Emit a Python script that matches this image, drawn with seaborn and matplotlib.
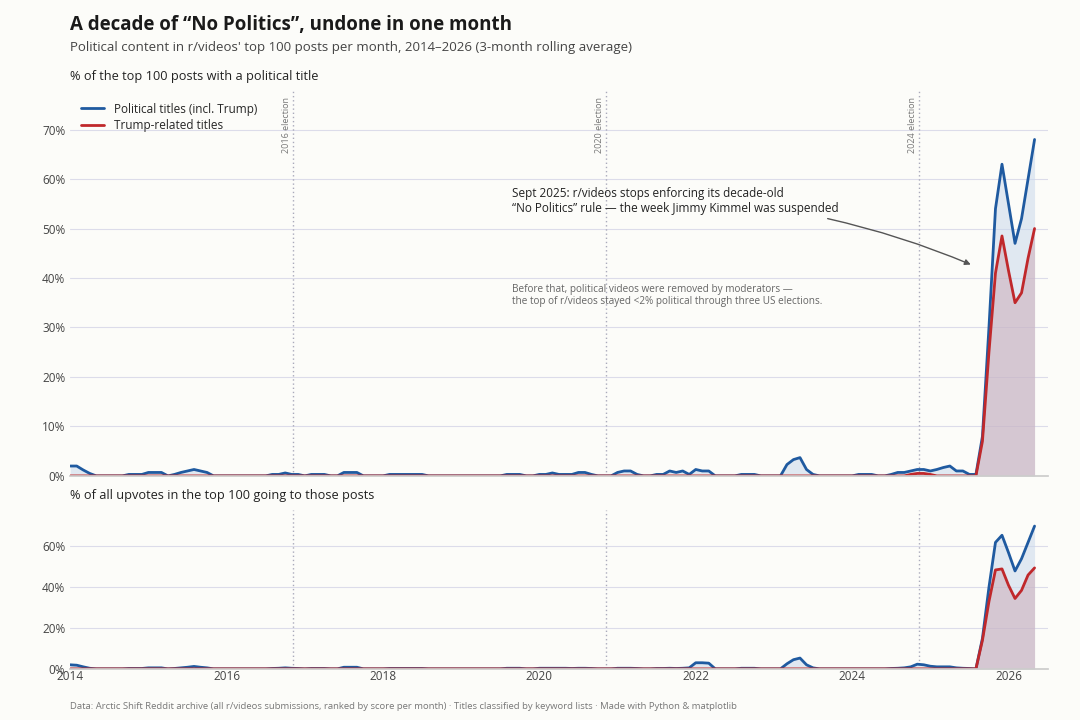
import numpy as np
import pandas as pd
import matplotlib.pyplot as plt
import seaborn as sns

# ------ data: monthly, Jan 2014 .. May 2026 (3-month rolling avg, %) ------
start_year = 2014

top_political = [
    2.0, 2.0, 1.2, 0.5, 0, 0, 0, 0, 0, 0.3, 0.3, 0.3,      # 2014
    0.7, 0.7, 0.7, 0, 0.3, 0.7, 1.0, 1.3, 1.0, 0.7, 0, 0,   # 2015
    0, 0, 0, 0, 0, 0, 0, 0.3, 0.3, 0.6, 0.3, 0.3,           # 2016
    0, 0.3, 0.3, 0.3, 0, 0, 0.7, 0.7, 0.7, 0, 0, 0,         # 2017
    0, 0.3, 0.3, 0.3, 0.3, 0.3, 0.3, 0, 0, 0, 0, 0,         # 2018
    0, 0, 0, 0, 0, 0, 0, 0.3, 0.3, 0.3, 0, 0,               # 2019
    0.3, 0.3, 0.6, 0.3, 0.3, 0.3, 0.7, 0.7, 0.3, 0, 0, 0,   # 2020
    0.7, 1.0, 1.0, 0.3, 0, 0, 0.3, 0.3, 1.0, 0.7, 1.0, 0.3, # 2021
    1.3, 1.0, 1.0, 0, 0, 0, 0, 0.3, 0.3, 0.3, 0, 0,         # 2022
    0, 0, 2.3, 3.3, 3.7, 1.3, 0.3, 0, 0, 0, 0, 0,           # 2023
    0, 0.3, 0.3, 0.3, 0, 0, 0.3, 0.7, 0.7, 1.0, 1.3, 1.3,   # 2024
    1.0, 1.3, 1.7, 2.0, 1.0, 1.0, 0.3, 0.3, 8, 30, 54, 63,  # 2025
    55, 47, 52, 60, 68,                                     # 2026
]
# Trump-related: zero until late 2024
top_trump = [0] * 129 + [0.3, 0.5, 0.5, 0.3] + [0] * 7 + \
    [7, 25, 41, 48.5, 41.5, 35, 37, 44, 50]

up_political = [
    2.0, 1.8, 1.0, 0.3, 0, 0, 0, 0, 0, 0.2, 0.2, 0.2,
    0.5, 0.5, 0.5, 0, 0.2, 0.5, 0.8, 1.2, 0.8, 0.5, 0, 0,
    0, 0, 0, 0, 0, 0, 0, 0.2, 0.3, 0.5, 0.3, 0.2,
    0, 0.2, 0.2, 0.2, 0, 0, 0.8, 0.8, 0.8, 0, 0, 0,
    0, 0.2, 0.2, 0.2, 0.2, 0.2, 0.2, 0, 0, 0, 0, 0,
    0, 0, 0, 0, 0, 0, 0, 0.3, 0.3, 0.3, 0, 0,
    0.3, 0.3, 0.3, 0.3, 0.3, 0.2, 0.3, 0.3, 0.2, 0, 0, 0,
    0.3, 0.3, 0.3, 0.2, 0, 0, 0.2, 0.2, 0.3, 0.2, 0.3, 0.5,
    3.0, 3.0, 2.8, 0, 0, 0, 0, 0.3, 0.3, 0.3, 0, 0,
    0, 0, 2.5, 4.5, 5.3, 2.0, 0.5, 0, 0, 0, 0, 0,
    0, 0, 0, 0, 0, 0, 0.2, 0.3, 0.5, 1.0, 2.3, 2.0,
    1.3, 1.0, 1.0, 1.0, 0.5, 0.3, 0.2, 0, 15, 40, 62, 65.5,
    57, 48, 54, 62, 70,
]
up_trump = [0] * 140 + [14, 33, 48.5, 49, 41, 34.5, 38.5, 46, 49.5]

elections = [2016.85, 2020.85, 2024.85]
election_labels = ["2016 election", "2020 election", "2024 election"]

months = start_year + np.arange(len(top_political)) / 12
df = pd.DataFrame({"x": months, "top_pol": top_political, "top_tr": top_trump,
                   "up_pol": up_political, "up_tr": up_trump})

# ------ style ------
sns.set_theme(style="white")
plt.rcParams['font.family'] = ['Open Sans', 'DejaVu Sans']
bg = "#fcfcf9"
blue = "#1f5aa0"
red = "#c0282b"

fig = plt.figure(figsize=(10.8, 7.2), dpi=100, facecolor=bg)
ax1 = fig.add_axes([0.065, 0.339, 0.905, 0.536], facecolor=bg)
ax2 = fig.add_axes([0.065, 0.071, 0.905, 0.221], facecolor=bg)

for ax, pol, tr in [(ax1, "top_pol", "top_tr"), (ax2, "up_pol", "up_tr")]:
    ax.fill_between(df["x"], df[pol], color="#c9d9ec", alpha=0.55, lw=0)
    ax.fill_between(df["x"], df[tr], color="#c9a0ae", alpha=0.45, lw=0)
    sns.lineplot(data=df, x="x", y=pol, ax=ax, color=blue, lw=2,
                 label="Political titles (incl. Trump)" if ax is ax1 else None)
    sns.lineplot(data=df, x="x", y=tr, ax=ax, color=red, lw=2,
                 label="Trump-related titles" if ax is ax1 else None)
    ax.set_xlim(2014, 2026.5)
    ax.set_ylim(0, 78)
    ax.set_xlabel("")
    ax.set_ylabel("")
    ax.grid(axis="y", color="#dcdcea", lw=0.8)
    ax.set_axisbelow(True)
    for s in ["top", "right", "left"]:
        ax.spines[s].set_visible(False)
    ax.spines["bottom"].set_color("#cccccc")
    ax.tick_params(axis="y", length=0, labelsize=8.5, colors="#444444")
    ax.yaxis.set_major_formatter(plt.FuncFormatter(lambda v, p: f"{v:.0f}%"))
    for e in elections:
        ax.axvline(e, color="#aaaabb", lw=1, ls=(0, (1, 2)), zorder=1)

ax1.set_yticks(range(0, 71, 10))
ax1.set_xticks([])
ax2.set_yticks(range(0, 61, 20))
ax2.set_xticks(range(2014, 2027, 2))
ax2.tick_params(axis="x", length=0, labelsize=8.5, colors="#444444", pad=1)

for e, lab in zip(elections, election_labels):
    ax1.text(e - 0.08, 76.5, lab, rotation=90, ha="center", va="top",
             fontsize=6.5, color="#777777")

leg = ax1.legend(loc="upper left", bbox_to_anchor=(0.0, 0.995), frameon=False,
                 fontsize=8.5, handlelength=2, labelspacing=0.3)

ax1.annotate("Sept 2025: r/videos stops enforcing its decade-old\n"
             "\u201cNo Politics\u201d rule \u2014 the week Jimmy Kimmel was suspended",
             xy=(2025.55, 42.5), xytext=(2019.65, 55.5), fontsize=8.5,
             color="#222222", va="center",
             arrowprops=dict(arrowstyle="-|>", color="#555555", lw=1,
                             connectionstyle="arc3,rad=-0.05",
                             relpos=(0.92, 0.0), shrinkA=0))
ax1.text(2019.65, 36.5, "Before that, political videos were removed by moderators \u2014\n"
         "the top of r/videos stayed <2% political through three US elections.",
         fontsize=7.2, color="#666666", va="center")

fig.text(0.065, 0.965, "A decade of \u201cNo Politics\u201d, undone in one month",
         fontsize=13.5, fontweight="bold", color="#1a1a1a", va="center")
fig.text(0.065, 0.934, "Political content in r/videos' top 100 posts per month, "
         "2014\u20132026 (3-month rolling average)", fontsize=9.5, color="#444444", va="center")
fig.text(0.065, 0.894, "% of the top 100 posts with a political title",
         fontsize=9.2, color="#222222", va="center")
fig.text(0.065, 0.312, "% of all upvotes in the top 100 going to those posts",
         fontsize=9.2, color="#222222", va="center")
fig.text(0.065, 0.019, "Data: Arctic Shift Reddit archive (all r/videos submissions, ranked by "
         "score per month) \u00b7 Titles classified by keyword lists \u00b7 Made with Python & matplotlib",
         fontsize=6.8, color="#777777", va="center")

fig.savefig("out.png", dpi=100, facecolor=bg)
